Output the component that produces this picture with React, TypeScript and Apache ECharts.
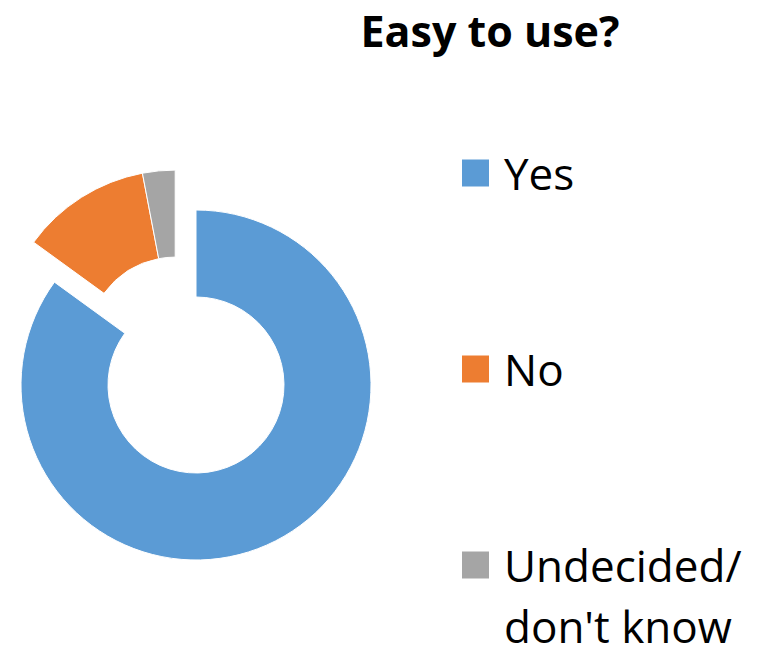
import React, { useEffect, useRef } from "react";
import * as echarts from "echarts";

const categories = ["Yes", "No", "Undecided/\ndon't know"];
const values = [85, 12, 3];
const colors = ["#5B9BD5", "#ED7D31", "#A5A5A5"];
const titleText = "Easy to use?";

export default function App() {
  const ref = useRef<HTMLDivElement>(null);
  useEffect(() => {
    if (!ref.current) return;
    const chart = echarts.init(ref.current, undefined, { renderer: "svg" });
    const rest = values[1] + values[2];
    const font = "Open Sans";
    const legendBase = {
      orient: "vertical",
      left: 460,
      padding: 0,
      itemWidth: 29,
      itemHeight: 29,
      icon: "rect",
      selectedMode: false,
    };
    const tok = { fontFamily: font, fontSize: 44, color: "#000", padding: [0, 0, 0, 9] };
    const border = { borderColor: "#fff", borderWidth: 1 };
    chart.setOption({
      animation: false,
      backgroundColor: "#fff",
      title: {
        text: titleText,
        left: 485,
        top: 4,
        textAlign: "center",
        textStyle: { fontFamily: font, fontWeight: "bold", fontSize: 43, color: "#000" },
      },
      legend: [
        {
          ...legendBase,
          top: 151,
          data: [categories[0]],
          textStyle: { fontFamily: font, fontSize: 44, color: "#000", lineHeight: 29, padding: [0, 0, 0, 9] },
        },
        {
          ...legendBase,
          top: 347,
          data: [categories[1]],
          textStyle: { fontFamily: font, fontSize: 44, color: "#000", lineHeight: 29, padding: [0, 0, 0, 9] },
        },
        {
          ...legendBase,
          top: 482,
          data: [categories[2]],
          formatter: (name: string) => {
            const parts = name.split("\n");
            return "{e|}\n{a|" + parts[0] + "}\n{b|" + parts[1] + "}";
          },
          textStyle: {
            fontFamily: font,
            fontSize: 44,
            color: "#000",
            rich: {
              e: { ...tok, lineHeight: 45 },
              a: { ...tok, lineHeight: 77 },
              b: { ...tok, lineHeight: 45 },
            },
          },
        },
      ],
      series: [
        {
          type: "pie",
          center: [196, 385],
          radius: [88, 175],
          startAngle: 90,
          clockwise: true,
          label: { show: false },
          labelLine: { show: false },
          emphasis: { disabled: true },
          data: [
            { name: categories[0], value: values[0], itemStyle: { color: colors[0], ...border } },
            { name: "_rest", value: rest, itemStyle: { color: "rgba(0,0,0,0)", borderWidth: 0 } },
          ],
        },
        {
          type: "pie",
          center: [175.2, 345.1],
          radius: [88, 175],
          startAngle: 90,
          clockwise: true,
          label: { show: false },
          labelLine: { show: false },
          emphasis: { disabled: true },
          data: [
            { name: "_yesGap", value: values[0], itemStyle: { color: "rgba(0,0,0,0)", borderWidth: 0 } },
            { name: categories[1], value: values[1], itemStyle: { color: colors[1], ...border } },
            { name: categories[2], value: values[2], itemStyle: { color: colors[2], ...border } },
          ],
        },
      ],
    });
    return () => chart.dispose();
  }, []);
  return (
    <div
      ref={ref}
      style={{ position: "fixed", left: 0, top: 0, width: 767, height: 650 }}
    />
  );
}
